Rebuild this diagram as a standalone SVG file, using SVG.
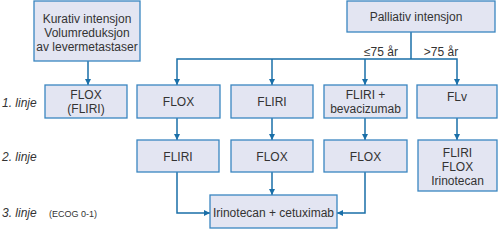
<svg xmlns="http://www.w3.org/2000/svg" width="500" height="229" viewBox="0 0 500 229">
<defs>
<marker id="ah" viewBox="0 0 10 10" refX="10" refY="5" markerWidth="6" markerHeight="6" markerUnits="userSpaceOnUse" orient="auto">
<path d="M0,0 L10,5 L0,10 z" fill="#1a6fa8"/>
</marker>
<style>
.box{fill:#e3e5f2;stroke:#3a86c0;stroke-width:1.3}
.t{font-family:"Liberation Sans",Arial,sans-serif;font-size:12px;fill:#333;text-anchor:middle}
.lab{font-family:"Liberation Sans",Arial,sans-serif;font-size:12px;fill:#333;font-style:italic}
.sm{font-family:"Liberation Sans",Arial,sans-serif;font-size:9px;fill:#333}
.c{fill:none;stroke:#1a6fa8;stroke-width:1.5}
.a{marker-end:url(#ah)}
</style>
</defs>
<rect width="500" height="229" fill="#fff"/>
<g id="labels">
<text class="lab" x="2" y="107">1. linje</text>
<text class="lab" x="2" y="161">2. linje</text>
<text class="lab" x="2" y="217">3. linje</text>
<text class="sm" x="49" y="217">(ECOG 0-1)</text>
<text class="t" x="381" y="56">≤75 år</text>
<text class="t" x="441" y="56">&gt;75 år</text>
</g>
<g id="connectors">
<path class="c a" d="M88,61 V85"/>
<path class="c" d="M411,32 V59"/>
<path class="c a" d="M411,59 H177 V85"/>
<path class="c a" d="M272,59 V85"/>
<path class="c a" d="M365,59 V85"/>
<path class="c a" d="M411,59 H457 V85"/>
<path class="c a" d="M177,118 V140"/>
<path class="c a" d="M272,118 V140"/>
<path class="c a" d="M365,118 V140"/>
<path class="c a" d="M457,118 V140"/>
<path class="c a" d="M272,172 V195"/>
<path class="c a" d="M177,172 V213 H210"/>
<path class="c a" d="M365,172 V213 H337"/>
</g>
<g id="kurativ">
<rect class="box" x="34" y="1" width="106" height="60"/>
<text class="t" x="87" y="22.5">Kurativ intensjon</text>
<text class="t" x="87" y="36.5">Volumreduksjon</text>
<text class="t" x="87" y="50.5">av levermetastaser</text>
</g>
<g id="palliativ">
<rect class="box" x="347" y="1" width="148" height="31"/>
<text class="t" x="416" y="21">Palliativ intensjon</text>
</g>
<g id="flox-fliri">
<rect class="box" x="45" y="85" width="82" height="33"/>
<text class="t" x="86" y="99">FLOX</text>
<text class="t" x="86" y="113">(FLIRI)</text>
</g>
<g id="flox1">
<rect class="box" x="137" y="85" width="83" height="33"/>
<text class="t" x="178.5" y="106">FLOX</text>
</g>
<g id="fliri1">
<rect class="box" x="231" y="85" width="82" height="33"/>
<text class="t" x="272" y="106">FLIRI</text>
</g>
<g id="fliri-bev">
<rect class="box" x="324" y="85" width="83" height="33"/>
<text class="t" x="365.5" y="99">FLIRI +</text>
<text class="t" x="365.5" y="113">bevacizumab</text>
</g>
<g id="flv">
<rect class="box" x="417" y="85" width="80" height="33"/>
<text class="t" x="457" y="101">FLv</text>
</g>
<g id="fliri2">
<rect class="box" x="137" y="140" width="82" height="32"/>
<text class="t" x="178" y="161">FLIRI</text>
</g>
<g id="flox2">
<rect class="box" x="231" y="140" width="82" height="32"/>
<text class="t" x="272" y="161">FLOX</text>
</g>
<g id="flox3">
<rect class="box" x="324" y="140" width="83" height="32"/>
<text class="t" x="365.5" y="161">FLOX</text>
</g>
<g id="flv2">
<rect class="box" x="418" y="140" width="79" height="51"/>
<text class="t" x="457.5" y="157">FLIRI</text>
<text class="t" x="457.5" y="171">FLOX</text>
<text class="t" x="457.5" y="185">Irinotecan</text>
</g>
<g id="irino-cetux">
<rect class="box" x="210" y="195" width="127" height="33"/>
<text class="t" x="273.5" y="217">Irinotecan + cetuximab</text>
</g>
</svg>
